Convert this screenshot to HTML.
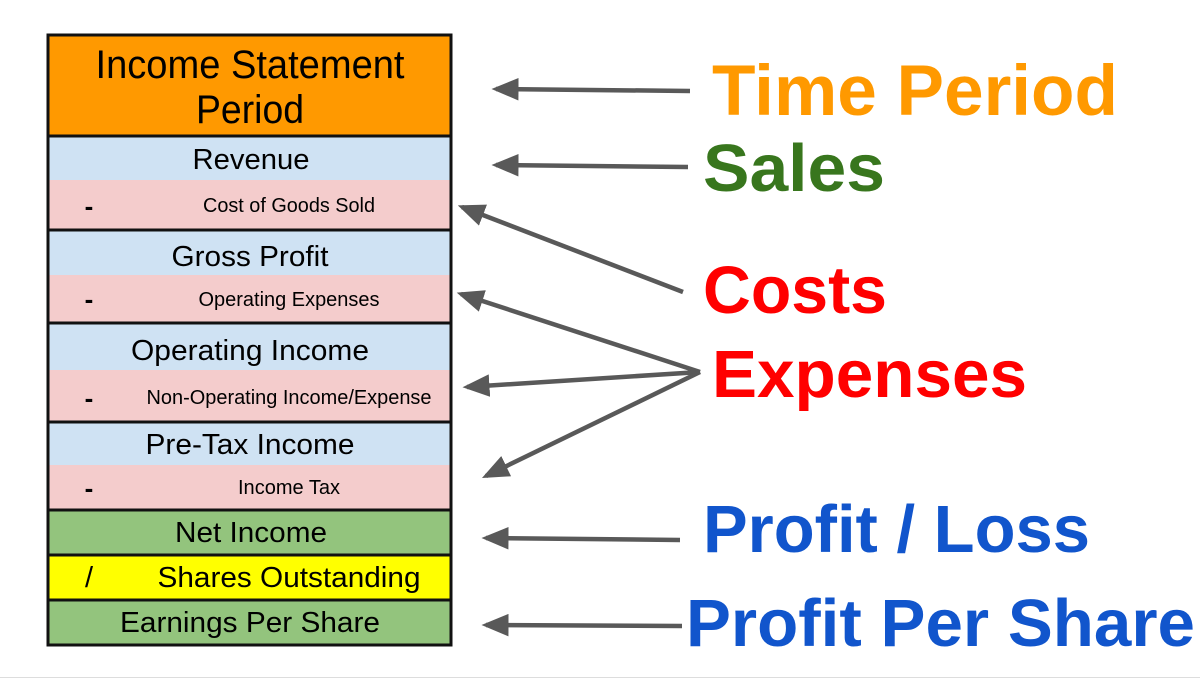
<!DOCTYPE html>
<html><head><meta charset="utf-8"><style>
html,body{margin:0;padding:0;background:#fff;}
svg{display:block;font-family:"Liberation Sans",Arial,sans-serif;}
</style></head><body>
<svg width="1200" height="679" viewBox="0 0 1200 679">
<defs>
<marker id="ah" markerWidth="6" markerHeight="5" refX="5" refY="2.5" orient="auto" markerUnits="strokeWidth">
<path d="M0,0 L6,2.5 L0,5 z" fill="#595959"/>
</marker>
</defs>
<rect x="0" y="0" width="1200" height="679" fill="#fff"/>
<line x1="0" y1="677.5" x2="1200" y2="677.5" stroke="#dddddd" stroke-width="1"/>
<g>
<rect x="48" y="35" width="403" height="101" fill="#ff9900"/>
<rect x="48" y="136" width="403" height="44" fill="#cfe2f3"/>
<rect x="48" y="180" width="403" height="50" fill="#f4cccc"/>
<rect x="48" y="230" width="403" height="45" fill="#cfe2f3"/>
<rect x="48" y="275" width="403" height="48" fill="#f4cccc"/>
<rect x="48" y="323" width="403" height="47" fill="#cfe2f3"/>
<rect x="48" y="370" width="403" height="52" fill="#f4cccc"/>
<rect x="48" y="422" width="403" height="43" fill="#cfe2f3"/>
<rect x="48" y="465" width="403" height="45" fill="#f4cccc"/>
<rect x="48" y="510" width="403" height="45" fill="#93c47d"/>
<rect x="48" y="555" width="403" height="45" fill="#ffff00"/>
<rect x="48" y="600" width="403" height="45" fill="#93c47d"/>
<g stroke="#111" stroke-width="3">
<line x1="48" y1="136" x2="451" y2="136"/>
<line x1="48" y1="230" x2="451" y2="230"/>
<line x1="48" y1="323" x2="451" y2="323"/>
<line x1="48" y1="422" x2="451" y2="422"/>
<line x1="48" y1="510" x2="451" y2="510"/>
<line x1="48" y1="555" x2="451" y2="555"/>
<line x1="48" y1="600" x2="451" y2="600"/>
</g>
<rect x="48" y="35" width="403" height="610" fill="none" stroke="#111" stroke-width="3"/>
<g fill="#000" text-anchor="middle">
<text x="250" y="78" font-size="40" textLength="309" lengthAdjust="spacingAndGlyphs">Income Statement</text>
<text x="250" y="123" font-size="40" textLength="108" lengthAdjust="spacingAndGlyphs">Period</text>
<text x="251" y="169" font-size="29" textLength="117" lengthAdjust="spacingAndGlyphs">Revenue</text>
<text x="289" y="212" font-size="20" textLength="172" lengthAdjust="spacingAndGlyphs">Cost of Goods Sold</text>
<text x="250" y="266" font-size="29" textLength="157" lengthAdjust="spacingAndGlyphs">Gross Profit</text>
<text x="289" y="306" font-size="20" textLength="181" lengthAdjust="spacingAndGlyphs">Operating Expenses</text>
<text x="250" y="360" font-size="29" textLength="238" lengthAdjust="spacingAndGlyphs">Operating Income</text>
<text x="289" y="404" font-size="20" textLength="285" lengthAdjust="spacingAndGlyphs">Non-Operating Income/Expense</text>
<text x="250" y="454" font-size="29" textLength="209" lengthAdjust="spacingAndGlyphs">Pre-Tax Income</text>
<text x="289" y="494" font-size="20" textLength="102" lengthAdjust="spacingAndGlyphs">Income Tax</text>
<text x="251" y="542" font-size="29" textLength="152" lengthAdjust="spacingAndGlyphs">Net Income</text>
<text x="289" y="587" font-size="29" textLength="263" lengthAdjust="spacingAndGlyphs">Shares Outstanding</text>
<text x="250" y="632" font-size="29" textLength="260" lengthAdjust="spacingAndGlyphs">Earnings Per Share</text>
</g>
<g fill="#000" font-size="26" font-weight="bold" text-anchor="middle">
<text x="89" y="215">-</text>
<text x="89" y="308">-</text>
<text x="89" y="407">-</text>
<text x="89" y="497">-</text>
<text x="89" y="587" font-weight="normal" font-size="29">/</text>
</g>
</g>
<g stroke="#595959" stroke-width="4.5" fill="none" marker-end="url(#ah)">
<line x1="690" y1="91" x2="496" y2="89"/>
<line x1="688" y1="167" x2="496" y2="165"/>
<line x1="683" y1="292" x2="462" y2="207"/>
<line x1="700" y1="372" x2="461" y2="294"/>
<line x1="700" y1="372" x2="467" y2="387"/>
<line x1="700" y1="372" x2="486" y2="476"/>
<line x1="680" y1="540" x2="486" y2="538"/>
<line x1="682" y1="626" x2="486" y2="625"/>
</g>
<g font-weight="bold">
<text x="712" y="115" font-size="71" fill="#ff9900" textLength="406" lengthAdjust="spacingAndGlyphs">Time Period</text>
<text x="703" y="191" font-size="67" fill="#38761d" textLength="182" lengthAdjust="spacingAndGlyphs">Sales</text>
<text x="703" y="313" font-size="67" fill="#ff0000" textLength="184" lengthAdjust="spacingAndGlyphs">Costs</text>
<text x="712" y="397" font-size="67" fill="#ff0000" textLength="315" lengthAdjust="spacingAndGlyphs">Expenses</text>
<text x="703" y="552" font-size="67" fill="#1155cc" textLength="387" lengthAdjust="spacingAndGlyphs">Profit / Loss</text>
<text x="686" y="646" font-size="67" fill="#1155cc" textLength="509" lengthAdjust="spacingAndGlyphs">Profit Per Share</text>
</g>
</svg>
</body></html>
